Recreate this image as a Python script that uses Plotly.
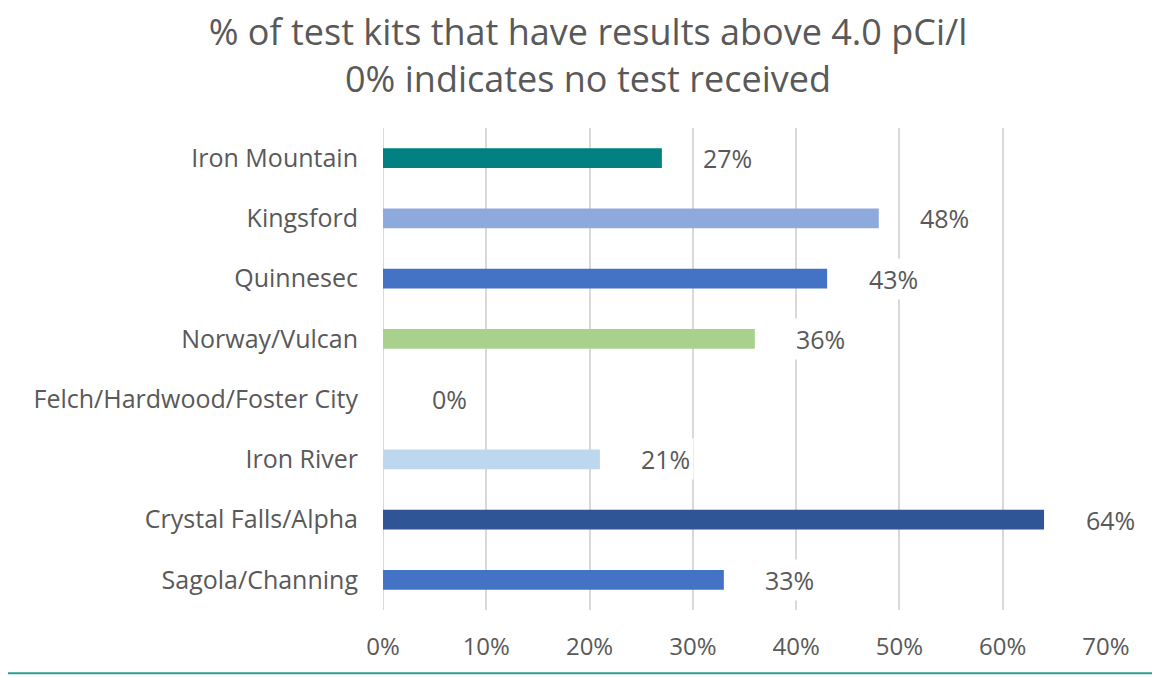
import plotly.graph_objects as go

categories = ["Iron Mountain", "Kingsford", "Quinnesec", "Norway/Vulcan",
              "Felch/Hardwood/Foster City", "Iron River", "Crystal Falls/Alpha",
              "Sagola/Channing"]
values = [0.27, 0.48, 0.43, 0.36, 0.0, 0.21, 0.64, 0.33]
bar_colors = ["#008080", "#8EA9DB", "#4472C4", "#A9D18E", "#4472C4",
              "#BDD7EE", "#2F5597", "#4472C4"]
x_ticks = [0, 0.1, 0.2, 0.3, 0.4, 0.5, 0.6, 0.7]
x_tick_labels = ["0%", "10%", "20%", "30%", "40%", "50%", "60%", "70%"]

FONT = "Open Sans, Calibri, sans-serif"
GREY = "#595959"

fig = go.Figure()
fig.add_trace(go.Bar(
    y=categories, x=values, orientation="h",
    marker=dict(color=bar_colors, line=dict(width=0)),
    width=0.33, hoverinfo="skip",
))

for c, v in zip(categories, values):
    fig.add_annotation(
        x=v, y=c, xref="x", yref="y", text=f"{round(v*100)}%",
        showarrow=False, xanchor="center", xshift=66,
        font=dict(family=FONT, size=25, color=GREY),
        bgcolor="white", borderpad=3,
    )

fig.update_layout(
    width=1160, height=677,
    paper_bgcolor="white", plot_bgcolor="white",
    margin=dict(l=375, r=62, t=120, b=75),
    showlegend=False,
    title=dict(
        text="% of test kits that have results above 4.0 pCi/l<br>0% indicates no test received",
        x=0.5, xanchor="center", y=0.945, yanchor="top",
        font=dict(family=FONT, size=36, color=GREY),
    ),
    xaxis=dict(
        range=[0, 0.7], tickvals=x_ticks, ticktext=x_tick_labels,
        showgrid=True, gridcolor="#D9D9D9", gridwidth=2,
        zeroline=False, showline=False, ticks="",
        tickfont=dict(family=FONT, size=24, color=GREY),
        ticklabelstandoff=20,
    ),
    yaxis=dict(
        categoryorder="array", categoryarray=categories[::-1],
        showgrid=False, zeroline=False, showline=False, ticks="",
        tickfont=dict(family=FONT, size=25, color=GREY),
        ticklabelstandoff=24,
    ),
    shapes=[
        dict(type="line", xref="x", yref="paper", x0=0, x1=0, y0=0, y1=1,
             line=dict(color="#D9D9D9", width=2), layer="below"),
        dict(type="line", xref="paper", yref="paper", x0=-0.7, x1=1.1,
             y0=-0.131, y1=-0.131, line=dict(color="#2E9C8F", width=2)),
    ],
)

fig.write_html("out.html")
